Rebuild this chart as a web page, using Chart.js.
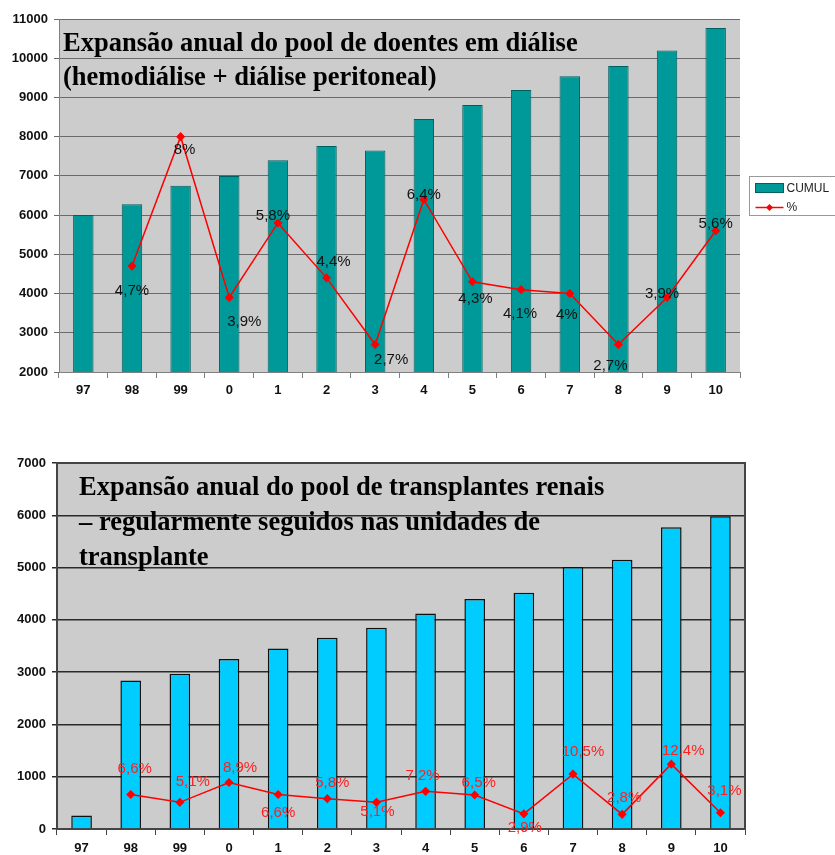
<!DOCTYPE html>
<html lang="pt">
<head>
<meta charset="UTF-8">
<title>Expansão anual do pool de doentes</title>
<script src="https://cdn.jsdelivr.net/npm/chart.js"></script>
<style>
  body { margin: 0; background: #fff; }
  .box { position: absolute; left: 0; width: 835px; }
  #top { top: 0; height: 410px; }
  #bottom { top: 440px; height: 415px; }
</style>
</head>
<body>
<div class="box" id="top"><canvas id="dialysisChart" width="835" height="410"></canvas></div>
<div class="box" id="bottom"><canvas id="transplantChart" width="835" height="415"></canvas></div>
<script>
// data
const categories = ['97', '98', '99', '0', '1', '2', '3', '4', '5', '6', '7', '8', '9', '10'];

const dialysisCumul = [6000, 6280, 6750, 7000, 7400, 7760, 7650, 8450, 8810, 9190, 9540, 9800, 10200, 10770];
const dialysisPct = [null, 4.7, 8, 3.9, 5.8, 4.4, 2.7, 6.4, 4.3, 4.1, 4, 2.7, 3.9, 5.6];
const dialysisTicks = [2000, 3000, 4000, 5000, 6000, 7000, 8000, 9000, 10000, 11000];
const dialysisTitle = ['Expansão anual do pool de doentes em diálise', '(hemodiálise + diálise peritoneal)'];

const transplantCumul = [260, 2840, 2970, 3250, 3450, 3660, 3850, 4120, 4400, 4520, 5010, 5150, 5770, 5980];
const transplantPct = [null, 6.6, 5.1, 8.9, 6.6, 5.8, 5.1, 7.2, 6.5, 2.9, 10.5, 2.8, 12.4, 3.1];
const transplantTicks = [0, 1000, 2000, 3000, 4000, 5000, 6000, 7000];
const transplantTitle = ['Expansão anual do pool de transplantes renais', '– regularmente seguidos nas unidades de', 'transplante'];

const legendNames = ['CUMUL', '%'];

// where each % label sits relative to its point [dx, dy]
const dialysisLabelShift = [[0, 0], [0, 25], [4, 13], [15, 24], [-5, -7], [7, -16], [16, 15], [0, -5],
  [3, 17], [-1, 24], [-3, 21], [-8, 21], [-5, -4], [0, -7]];
const transplantLabelShift = [[0, 0], [4, -26], [13, -20], [11, -15], [0, 18], [5, -16], [1, 10], [-3, -15],
  [4, -12], [1, 14], [10, -22], [2, -17], [12, -13], [4, -22]];

const pctText = v => String(v).replace('.', ',') + '%';

const plotBg = {
  id: 'plotBg',
  beforeDraw(chart, args, opts) {
    const a = chart.chartArea, ctx = chart.ctx;
    ctx.save();
    ctx.fillStyle = opts.color;
    ctx.fillRect(a.left, a.top, a.right - a.left, a.bottom - a.top);
    ctx.restore();
  },
  afterDraw(chart, args, opts) {
    if (!opts.frame) return;
    const a = chart.chartArea, ctx = chart.ctx;
    ctx.save();
    ctx.strokeStyle = opts.frame;
    ctx.lineWidth = 2;
    ctx.beginPath();
    ctx.moveTo(a.left, a.top);
    ctx.lineTo(a.right, a.top);
    ctx.lineTo(a.right, a.bottom);
    ctx.stroke();
    ctx.restore();
  }
};

const pctLabels = {
  id: 'pctLabels',
  afterDatasetsDraw(chart, args, opts) {
    const ctx = chart.ctx;
    const meta = chart.getDatasetMeta(1);
    const values = chart.data.datasets[1].data;
    ctx.save();
    ctx.font = '15px "Liberation Sans", Arial, sans-serif';
    ctx.fillStyle = opts.color;
    ctx.textAlign = 'center';
    ctx.textBaseline = 'middle';
    meta.data.forEach((pt, i) => {
      if (values[i] == null) return;
      const s = opts.shift[i];
      ctx.fillText(pctText(values[i]), pt.x + s[0], pt.y + s[1]);
    });
    ctx.restore();
  }
};

const titleText = {
  id: 'titleText',
  afterDraw(chart, args, opts) {
    const ctx = chart.ctx;
    ctx.save();
    ctx.font = 'bold 26.5px "Liberation Serif", "Times New Roman", serif';
    ctx.fillStyle = '#000';
    ctx.textBaseline = 'middle';
    opts.lines.forEach((t, i) => ctx.fillText(t, opts.x, opts.y + i * opts.step));
    ctx.restore();
  }
};

const boxLegend = {
  id: 'boxLegend',
  afterDraw(chart, args, opts) {
    const ctx = chart.ctx;
    const bar = chart.data.datasets[0], line = chart.data.datasets[1];
    const x = opts.x, y = opts.y;
    ctx.save();
    ctx.fillStyle = '#fff';
    ctx.fillRect(x, y, opts.w, opts.h);
    ctx.strokeStyle = opts.border;
    ctx.lineWidth = opts.borderWidth;
    ctx.strokeRect(x, y, opts.w, opts.h);
    // bar swatch
    ctx.fillStyle = bar.backgroundColor;
    ctx.fillRect(x + 6, y + 7, 28, 9);
    ctx.strokeStyle = bar.borderColor;
    ctx.lineWidth = 1;
    ctx.strokeRect(x + 6, y + 7, 28, 9);
    // line swatch
    const ly = y + 31;
    ctx.strokeStyle = line.borderColor;
    ctx.lineWidth = 1.5;
    ctx.beginPath();
    ctx.moveTo(x + 6, ly);
    ctx.lineTo(x + 34, ly);
    ctx.stroke();
    ctx.fillStyle = line.borderColor;
    ctx.beginPath();
    ctx.moveTo(x + 20, ly - 3.5);
    ctx.lineTo(x + 23.5, ly);
    ctx.lineTo(x + 20, ly + 3.5);
    ctx.lineTo(x + 16.5, ly);
    ctx.closePath();
    ctx.fill();
    ctx.fillStyle = '#222';
    ctx.font = '12px "Liberation Sans", Arial, sans-serif';
    ctx.textBaseline = 'middle';
    ctx.fillText(legendNames[0], x + 37, y + 12);
    ctx.fillText(legendNames[1], x + 37, ly);
    ctx.restore();
  }
};

function buildChart(id, cfg) {
  const ctx = document.getElementById(id).getContext('2d');
  return new Chart(ctx, {
    type: 'bar',
    data: {
      labels: categories,
      datasets: [{
        type: 'bar',
        label: legendNames[0],
        data: cfg.cumul,
        backgroundColor: cfg.barColor,
        borderColor: cfg.barBorder,
        borderWidth: cfg.barBorderWidth,
        barPercentage: 0.42,
        categoryPercentage: 1,
        order: 1
      }, {
        type: 'line',
        label: legendNames[1],
        data: cfg.pct,
        yAxisID: 'y1',
        borderColor: '#ff0000',
        backgroundColor: '#ff0000',
        borderWidth: 1.5,
        pointStyle: 'rectRot',
        pointRadius: 3.5,
        tension: 0,
        order: 0
      }]
    },
    options: {
      responsive: false,
      animation: false,
      layout: { padding: { left: 0, top: cfg.top, right: cfg.right, bottom: 0 } },
      scales: {
        x: {
          grid: { drawOnChartArea: false, drawTicks: true, tickLength: 6, color: cfg.axisColor },
          border: { color: cfg.axisColor, width: cfg.axisWidth },
          ticks: { color: '#111', padding: cfg.xPad, font: { family: '"Liberation Sans", Arial', size: 13, weight: 'bold' } },
          afterFit: s => { s.height = cfg.xHeight; }
        },
        y: {
          min: cfg.ticks[0],
          max: cfg.ticks[cfg.ticks.length - 1],
          afterBuildTicks: s => { s.ticks = cfg.ticks.map(v => ({ value: v })); },
          grid: { color: cfg.gridColor, lineWidth: cfg.gridWidth, tickLength: 5 },
          border: { color: cfg.axisColor, width: cfg.axisWidth },
          ticks: { color: '#111', padding: 6, callback: v => String(v), font: { family: '"Liberation Sans", Arial', size: 13, weight: 'bold' } },
          afterFit: s => { s.width = cfg.left; }
        },
        y1: { display: false, min: cfg.pctMin, max: cfg.pctMax }
      },
      plugins: {
        legend: { display: false },
        tooltip: { enabled: false },
        plotBg: { color: '#cccccc', frame: cfg.frame },
        pctLabels: { color: cfg.labelColor, shift: cfg.shift },
        titleText: { lines: cfg.title, x: cfg.titleX, y: cfg.titleY, step: cfg.titleStep },
        boxLegend: cfg.legend
      }
    },
    plugins: [plotBg, pctLabels, titleText, boxLegend]
  });
}

buildChart('dialysisChart', {
  cumul: dialysisCumul, pct: dialysisPct, ticks: dialysisTicks,
  pctMin: 2, pctMax: 11,
  barColor: '#009999', barBorder: '#005f5f', barBorderWidth: 1,
  gridColor: '#6a6a6a', gridWidth: 1, axisColor: '#808080', axisWidth: 1,
  top: 19, right: 95, left: 59, xHeight: 38, xPad: 5, frame: null,
  labelColor: '#111', shift: dialysisLabelShift,
  title: dialysisTitle, titleX: 63, titleY: 44, titleStep: 34,
  legend: { x: 749.5, y: 176.5, w: 100, h: 39, border: '#999', borderWidth: 1 }
});

buildChart('transplantChart', {
  cumul: transplantCumul, pct: transplantPct, ticks: transplantTicks,
  pctMin: 0, pctMax: 70,
  barColor: '#00ccff', barBorder: '#111', barBorderWidth: 1.5,
  gridColor: '#2a2a2a', gridWidth: 1.5, axisColor: '#444', axisWidth: 2,
  top: 23, right: 90, left: 57, xHeight: 26, xPad: 6, frame: '#444',
  labelColor: '#ff2020', shift: transplantLabelShift,
  title: transplantTitle, titleX: 79, titleY: 48, titleStep: 35,
  legend: { x: 757, y: 625, w: 100, h: 43, border: '#555', borderWidth: 2 }
});
</script>
</body>
</html>
